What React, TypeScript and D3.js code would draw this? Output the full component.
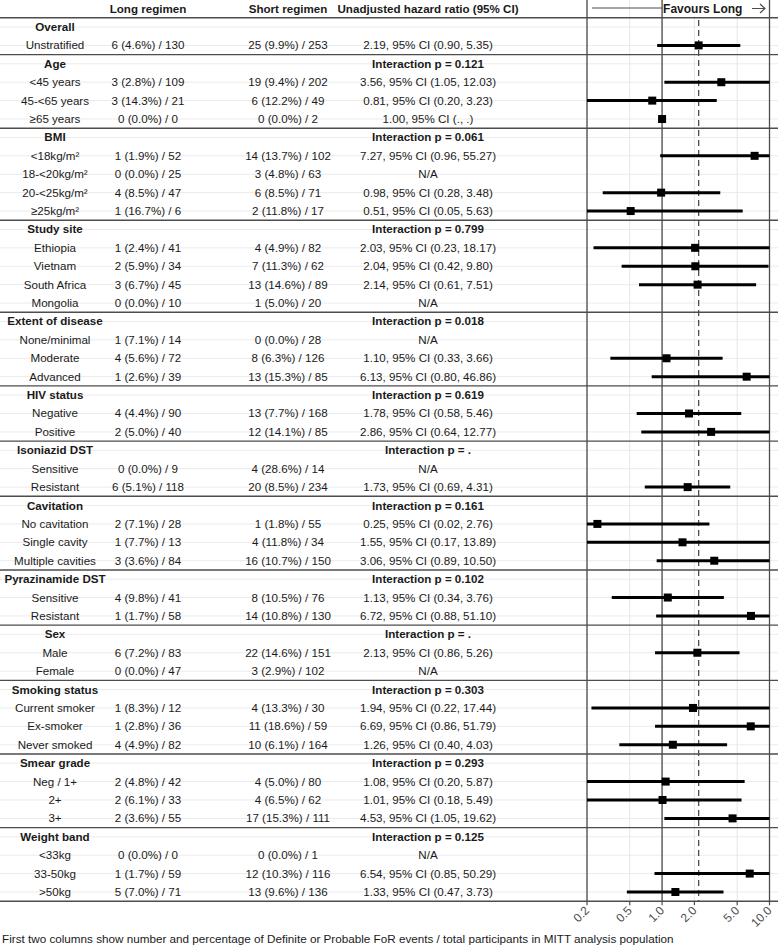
import React from "react";
import * as d3 from "d3";

const groupNames = ["Overall", "Age", "BMI", "Study site", "Extent of disease", "HIV status", "Isoniazid DST", "Cavitation", "Pyrazinamide DST", "Sex", "Smoking status", "Smear grade", "Weight band"];
const interactionP = ["", "0.121", "0.061", "0.799", "0.018", "0.619", ".", "0.161", "0.102", ".", "0.303", "0.293", "0.125"];
const groupSizes = [1, 3, 4, 4, 3, 2, 2, 3, 2, 2, 3, 3, 3];

const subgroupLabels = [
  "Unstratified",
  "<45 years", "45-<65 years", "≥65 years",
  "<18kg/m²", "18-<20kg/m²", "20-<25kg/m²", "≥25kg/m²",
  "Ethiopia", "Vietnam", "South Africa", "Mongolia",
  "None/minimal", "Moderate", "Advanced",
  "Negative", "Positive",
  "Sensitive", "Resistant",
  "No cavitation", "Single cavity", "Multiple cavities",
  "Sensitive", "Resistant",
  "Male", "Female",
  "Current smoker", "Ex-smoker", "Never smoked",
  "Neg / 1+", "2+", "3+",
  "<33kg", "33-50kg", ">50kg",
];

const longRegimen = [
  "6 (4.6%) / 130",
  "3 (2.8%) / 109", "3 (14.3%) / 21", "0 (0.0%) / 0",
  "1 (1.9%) / 52", "0 (0.0%) / 25", "4 (8.5%) / 47", "1 (16.7%) / 6",
  "1 (2.4%) / 41", "2 (5.9%) / 34", "3 (6.7%) / 45", "0 (0.0%) / 10",
  "1 (7.1%) / 14", "4 (5.6%) / 72", "1 (2.6%) / 39",
  "4 (4.4%) / 90", "2 (5.0%) / 40",
  "0 (0.0%) / 9", "6 (5.1%) / 118",
  "2 (7.1%) / 28", "1 (7.7%) / 13", "3 (3.6%) / 84",
  "4 (9.8%) / 41", "1 (1.7%) / 58",
  "6 (7.2%) / 83", "0 (0.0%) / 47",
  "1 (8.3%) / 12", "1 (2.8%) / 36", "4 (4.9%) / 82",
  "2 (4.8%) / 42", "2 (6.1%) / 33", "2 (3.6%) / 55",
  "0 (0.0%) / 0", "1 (1.7%) / 59", "5 (7.0%) / 71",
];

const shortRegimen = [
  "25 (9.9%) / 253",
  "19 (9.4%) / 202", "6 (12.2%) / 49", "0 (0.0%) / 2",
  "14 (13.7%) / 102", "3 (4.8%) / 63", "6 (8.5%) / 71", "2 (11.8%) / 17",
  "4 (4.9%) / 82", "7 (11.3%) / 62", "13 (14.6%) / 89", "1 (5.0%) / 20",
  "0 (0.0%) / 28", "8 (6.3%) / 126", "13 (15.3%) / 85",
  "13 (7.7%) / 168", "12 (14.1%) / 85",
  "4 (28.6%) / 14", "20 (8.5%) / 234",
  "1 (1.8%) / 55", "4 (11.8%) / 34", "16 (10.7%) / 150",
  "8 (10.5%) / 76", "14 (10.8%) / 130",
  "22 (14.6%) / 151", "3 (2.9%) / 102",
  "4 (13.3%) / 30", "11 (18.6%) / 59", "10 (6.1%) / 164",
  "4 (5.0%) / 80", "4 (6.5%) / 62", "17 (15.3%) / 111",
  "0 (0.0%) / 1", "12 (10.3%) / 116", "13 (9.6%) / 136",
];

const hrLabels = [
  "2.19, 95% CI (0.90, 5.35)",
  "3.56, 95% CI (1.05, 12.03)", "0.81, 95% CI (0.20, 3.23)", "1.00, 95% CI (., .)",
  "7.27, 95% CI (0.96, 55.27)", "N/A", "0.98, 95% CI (0.28, 3.48)", "0.51, 95% CI (0.05, 5.63)",
  "2.03, 95% CI (0.23, 18.17)", "2.04, 95% CI (0.42, 9.80)", "2.14, 95% CI (0.61, 7.51)", "N/A",
  "N/A", "1.10, 95% CI (0.33, 3.66)", "6.13, 95% CI (0.80, 46.86)",
  "1.78, 95% CI (0.58, 5.46)", "2.86, 95% CI (0.64, 12.77)",
  "N/A", "1.73, 95% CI (0.69, 4.31)",
  "0.25, 95% CI (0.02, 2.76)", "1.55, 95% CI (0.17, 13.89)", "3.06, 95% CI (0.89, 10.50)",
  "1.13, 95% CI (0.34, 3.76)", "6.72, 95% CI (0.88, 51.10)",
  "2.13, 95% CI (0.86, 5.26)", "N/A",
  "1.94, 95% CI (0.22, 17.44)", "6.69, 95% CI (0.86, 51.79)", "1.26, 95% CI (0.40, 4.03)",
  "1.08, 95% CI (0.20, 5.87)", "1.01, 95% CI (0.18, 5.49)", "4.53, 95% CI (1.05, 19.62)",
  "N/A", "6.54, 95% CI (0.85, 50.29)", "1.33, 95% CI (0.47, 3.73)",
];

const hrEstimate: (number | null)[] = [
  2.19,
  3.56, 0.81, 1.0,
  7.27, null, 0.98, 0.51,
  2.03, 2.04, 2.14, null,
  null, 1.10, 6.13,
  1.78, 2.86,
  null, 1.73,
  0.25, 1.55, 3.06,
  1.13, 6.72,
  2.13, null,
  1.94, 6.69, 1.26,
  1.08, 1.01, 4.53,
  null, 6.54, 1.33,
];

const ciLower: (number | null)[] = [
  0.90,
  1.05, 0.20, null,
  0.96, null, 0.28, 0.05,
  0.23, 0.42, 0.61, null,
  null, 0.33, 0.80,
  0.58, 0.64,
  null, 0.69,
  0.02, 0.17, 0.89,
  0.34, 0.88,
  0.86, null,
  0.22, 0.86, 0.40,
  0.20, 0.18, 1.05,
  null, 0.85, 0.47,
];

const ciUpper: (number | null)[] = [
  5.35,
  12.03, 3.23, null,
  55.27, null, 3.48, 5.63,
  18.17, 9.80, 7.51, null,
  null, 3.66, 46.86,
  5.46, 12.77,
  null, 4.31,
  2.76, 13.89, 10.50,
  3.76, 51.10,
  5.26, null,
  17.44, 51.79, 4.03,
  5.87, 5.49, 19.62,
  null, 50.29, 3.73,
];

const overallHR = 2.19;
const axisTicks = [0.2, 0.5, 1, 2, 5, 10];
const axisTickLabels = ["0.2", "0.5", "1.0", "2.0", "5.0", "10.0"];
const columnHeaders = ["Long regimen", "Short regimen", "Unadjusted hazard ratio (95% CI)"];
const favoursLabel = "Favours Long";
const footnote = "First two columns show number and percentage of Definite or Probable FoR events / total participants in MITT analysis population";

type Row = {
  header: boolean;
  group: number;
  label: string;
  long?: string;
  short?: string;
  hr?: string;
  est?: number | null;
  lo?: number | null;
  hi?: number | null;
};

function buildRows(): Row[] {
  const rows: Row[] = [];
  let k = 0;
  groupNames.forEach((g, gi) => {
    rows.push({ header: true, group: gi, label: g, hr: interactionP[gi] ? `Interaction p = ${interactionP[gi]}` : "" });
    for (let j = 0; j < groupSizes[gi]; j++) {
      rows.push({
        header: false,
        group: gi,
        label: subgroupLabels[k],
        long: longRegimen[k],
        short: shortRegimen[k],
        hr: hrLabels[k],
        est: hrEstimate[k],
        lo: ciLower[k],
        hi: ciUpper[k],
      });
      k++;
    }
  });
  return rows;
}

const W = 778;
const H = 948;
const FONT = "'Liberation Sans', Arial, Helvetica, sans-serif";
const FS = 11.6;
const TOP = 17.8;
const BOTTOM = 901.2;
const COL_X = [55, 148, 288, 428];

export default function App() {
  const rows = buildRows();
  const y = d3
    .scaleBand<number>()
    .domain(rows.map((_, i) => i))
    .range([TOP, BOTTOM])
    .padding(0);
  const bw = y.bandwidth();
  const cy = (i: number) => (y(i) as number) + bw / 2;
  const x = d3.scaleLog().domain([0.2, 10]).range([587, 769.5]);
  const clampX = (v: number) => x(Math.max(0.2, Math.min(10, v)));

  const darkLine = "#4d4d4d";
  const textCol = "#1a1a1a";

  return (
    <svg
      width={W}
      height={H}
      style={{ position: "absolute", left: 0, top: 0, background: "#ffffff" }}
      fontFamily={FONT}
    >
      <rect x={0} y={0} width={W} height={H} fill="#ffffff" />

      {/* faint row gridlines */}
      {rows.map((_, i) => (
        <line key={`rg${i}`} x1={0} x2={W} y1={cy(i)} y2={cy(i)} stroke="#ebebeb" strokeWidth={1} />
      ))}

      {/* faint vertical gridlines at ticks */}
      {axisTicks.map((t) => (
        <line key={`vg${t}`} x1={x(t)} x2={x(t)} y1={0} y2={BOTTOM} stroke="#dfe9e9" strokeWidth={1} />
      ))}

      {/* group separators */}
      {rows.map((r, i) =>
        r.header ? (
          <line key={`sep${i}`} x1={0} x2={W} y1={y(i) as number} y2={y(i) as number} stroke={darkLine} strokeWidth={1.4} />
        ) : null
      )}
      <line x1={0} x2={W} y1={BOTTOM} y2={BOTTOM} stroke={darkLine} strokeWidth={1.4} />

      {/* forest vertical lines */}
      {[0.2, 1, 10].map((t) => (
        <line key={`vl${t}`} x1={x(t)} x2={x(t)} y1={0} y2={BOTTOM} stroke={darkLine} strokeWidth={1.3} />
      ))}
      <line x1={x(overallHR)} x2={x(overallHR)} y1={0} y2={BOTTOM} stroke={darkLine} strokeWidth={1.3} strokeDasharray="6,4" />

      {/* header */}
      {columnHeaders.map((h, i) => (
        <text key={`h${i}`} x={COL_X[i + 1]} y={13} textAnchor="middle" fontWeight="bold" fontSize={FS} fill={textCol}>
          {h}
        </text>
      ))}
      <line x1={592} x2={x(1)} y1={8} y2={8} stroke={darkLine} strokeWidth={1.2} />
      <rect x={x(1) + 1} y={0} width={84} height={16} fill="#ffffff" />
      <text x={x(1) + 1} y={13} fontWeight="bold" fontSize={12} fill={textCol}>
        {favoursLabel}
      </text>
      <path d="M752,8.5 L765,8.5 M760,4 L765,8.5 L760,13" fill="none" stroke={darkLine} strokeWidth={1.2} />

      {/* table rows */}
      {rows.map((r, i) => (
        <g key={`r${i}`} fontSize={FS} fill={textCol}>
          <text x={COL_X[0]} y={cy(i) + 4} textAnchor="middle" fontWeight={r.header ? "bold" : "normal"}>
            {r.label}
          </text>
          {!r.header && (
            <>
              <text x={COL_X[1]} y={cy(i) + 4} textAnchor="middle">{r.long}</text>
              <text x={COL_X[2]} y={cy(i) + 4} textAnchor="middle">{r.short}</text>
            </>
          )}
          {r.hr ? (
            <text x={COL_X[3]} y={cy(i) + 4} textAnchor="middle" fontWeight={r.header ? "bold" : "normal"}>
              {r.hr}
            </text>
          ) : null}
        </g>
      ))}

      {/* forest marks */}
      {rows.map((r, i) => {
        if (r.header || r.est == null) return null;
        const yy = cy(i);
        return (
          <g key={`f${i}`}>
            {r.lo != null && r.hi != null && (
              <line x1={clampX(r.lo)} x2={clampX(r.hi)} y1={yy} y2={yy} stroke="#000" strokeWidth={3} />
            )}
            <rect x={x(r.est) - 4} y={yy - 4} width={8} height={8} fill="#000" />
          </g>
        );
      })}

      {/* axis */}
      {axisTicks.map((t, i) => (
        <g key={`at${t}`}>
          <line x1={x(t)} x2={x(t)} y1={BOTTOM} y2={BOTTOM + 4} stroke={darkLine} strokeWidth={1.2} />
          <text
            transform={`translate(${x(t) + 3},${BOTTOM + 10}) rotate(-45)`}
            textAnchor="end"
            fontSize={12}
            fill="#4d4d4d"
          >
            {axisTickLabels[i]}
          </text>
        </g>
      ))}

      <text x={2} y={943} fontSize={11.7} fill={textCol}>
        {footnote}
      </text>
    </svg>
  );
}
